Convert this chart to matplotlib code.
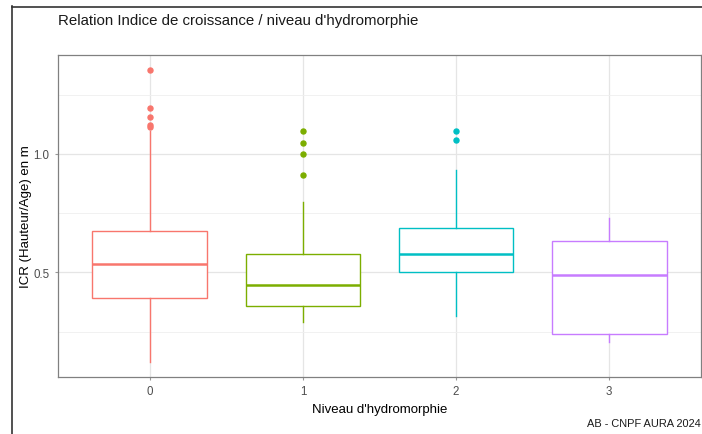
import matplotlib
matplotlib.use("Agg")
import matplotlib.pyplot as plt
from matplotlib.lines import Line2D

plt.rcParams['font.family'] = ['Liberation Sans', 'DejaVu Sans']

# data
niveaux = [0, 1, 2, 3]
couleurs = ["#F8766D", "#7CAE00", "#00BFC4", "#C77CFF"]
q1 = [0.391, 0.356, 0.500, 0.239]
med = [0.534, 0.448, 0.579, 0.489]
q3 = [0.676, 0.579, 0.686, 0.634]
whislo = [0.120, 0.289, 0.314, 0.204]
whishi = [1.098, 0.797, 0.931, 0.729]
outliers = [
    [1.355, 1.193, 1.155, 1.123, 1.113],
    [1.097, 1.046, 0.999, 0.911],
    [1.097, 1.061],
    [],
]

W, H = 702, 435
fig = plt.figure(figsize=(W / 100, H / 100), dpi=100)
ax = fig.add_axes([58 / W, (H - 378) / H, (701 - 58) / W, (378 - 56) / H])

for i, n in enumerate(niveaux):
    st = dict(q1=q1[i], med=med[i], q3=q3[i], whislo=whislo[i],
              whishi=whishi[i], fliers=outliers[i])
    c = couleurs[i]
    ax.bxp([st], positions=[n], widths=0.75, showcaps=False,
           patch_artist=True,
           boxprops=dict(facecolor="white", edgecolor=c, linewidth=1.0),
           medianprops=dict(color=c, linewidth=1.8),
           whiskerprops=dict(color=c, linewidth=1.0),
           flierprops=dict(marker="o", markerfacecolor=c, markeredgecolor=c,
                           markersize=3.6, linestyle="none"),
           zorder=3)

ax.set_xlim(-0.6, 3.6)
ax.set_ylim(0.058, 1.418)
ax.set_xticks(niveaux)
ax.set_xticklabels([str(n) for n in niveaux])
ax.set_yticks([0.5, 1.0])
ax.set_yticklabels(["0.5", "1.0"])
ax.set_yticks([0.25, 0.75, 1.25], minor=True)
ax.tick_params(axis="both", which="major", length=2.5, width=0.8,
               color="#999999", labelcolor="#4D4D4D", labelsize=8.3, pad=3.5)
ax.tick_params(axis="y", which="minor", length=0)
ax.grid(True, which="major", color="#E5E5E5", linewidth=0.9, zorder=0)
ax.grid(True, which="minor", axis="y", color="#EFEFEF", linewidth=0.6, zorder=0)
ax.set_axisbelow(True)
for s in ax.spines.values():
    s.set_color("#808080")
    s.set_linewidth(0.9)

ax.set_xlabel("Niveau d'hydromorphie", fontsize=9.5, labelpad=4)
ax.set_ylabel("ICR (Hauteur/Age) en m", fontsize=9.5)
ax.yaxis.set_label_coords((32 - 58) / (701 - 58), 0.5)

fig.text(58 / W, 1 - 21 / H, "Relation Indice de croissance / niveau d'hydromorphie",
         fontsize=10.8, ha="left", va="center", color="#1A1A1A")
fig.text(701 / W, 1 - 424 / H, "AB - CNPF AURA 2024",
         fontsize=7.9, ha="right", va="center", color="#1A1A1A")

# frame of the screenshot
fig.add_artist(Line2D([11.5 / W, 11.5 / W], [0, 1 - 7 / H],
                      transform=fig.transFigure, color="#333333", linewidth=1.2))
fig.add_artist(Line2D([11.5 / W, 1], [1 - 7.5 / H, 1 - 7.5 / H],
                      transform=fig.transFigure, color="#333333", linewidth=1.2))

fig.savefig("out.png", dpi=100)
